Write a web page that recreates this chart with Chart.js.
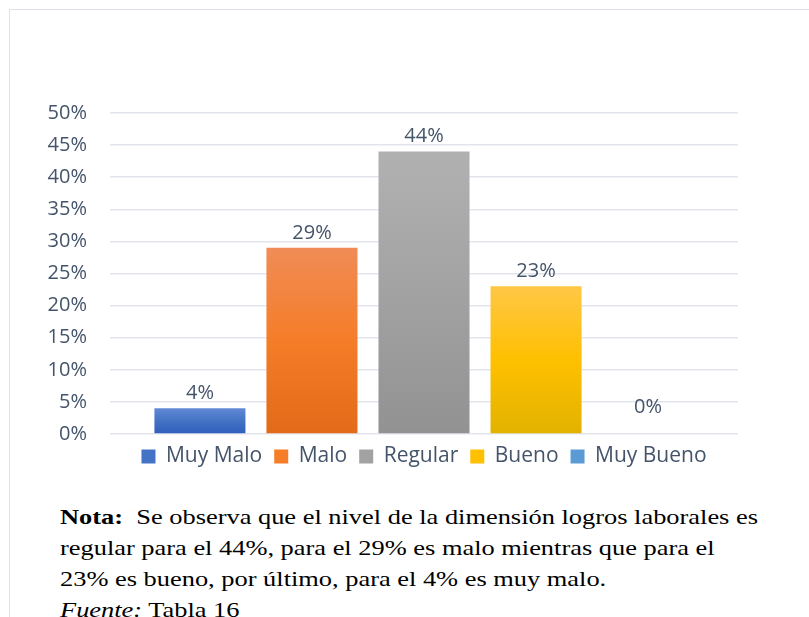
<!DOCTYPE html>
<html>
<head>
<meta charset="utf-8">
<script src="https://cdn.jsdelivr.net/npm/chart.js@4"></script>
<style>
  body { margin: 0; background: #fff; width: 809px; height: 617px; overflow: hidden; position: relative; }
  .frame { position: absolute; left: 9px; top: 9px; right: -2px; bottom: -2px; border-left: 1.5px solid #dde2e9; border-top: 1.5px solid #dde2e9; }
  .chart-box { position: absolute; left: 0; top: 0; width: 809px; height: 480px; }
  .nota { position: absolute; left: 60px; top: 501px; font-family: "Liberation Serif", "Times New Roman", serif; font-size: 22px; line-height: 31px; color: #000; transform: scaleX(1.2); transform-origin: 0 0; }
  .nota div { white-space: nowrap; }
</style>
</head>
<body>
<div class="frame"></div>
<div class="chart-box"><canvas id="logros_chart"></canvas></div>
<div class="nota">
  <div><b>Nota:</b>&nbsp; Se observa que el nivel de la dimensión logros laborales es</div>
  <div>regular para el 44%, para el 29% es malo mientras que para el</div>
  <div>23% es bueno, por último, para el 4% es muy malo.</div>
  <div><i>Fuente:</i> Tabla 16</div>
</div>
<script>
  var series_names = ['Muy Malo', 'Malo', 'Regular', 'Bueno', 'Muy Bueno'];
  var series_values = [4, 29, 44, 23, 0];
  var y_ticks = [0, 5, 10, 15, 20, 25, 30, 35, 40, 45, 50];

  // top / middle / bottom colour of each bar gradient
  var bar_colors = [
    ['#6189d6', '#4472c4', '#2f5ebe'],
    ['#f08c56', '#f57d28', '#e36a18'],
    ['#b1b1b1', '#a2a2a2', '#929292'],
    ['#ffc746', '#ffc000', '#e2b200'],
    ['#6ba6dd', '#5b9bd5', '#3f86c8']
  ];

  var text_color = '#44546a';
  var label_font = { family: "'Open Sans', sans-serif", size: 20 };

  var bar_gradient = function(index) {
    return function(ctx) {
      var chart = ctx.chart;
      var y = chart.scales && chart.scales.y;
      if (!chart.chartArea || !y) {
        return bar_colors[index][1];
      }
      var top = y.getPixelForValue(series_values[index]);
      var bottom = y.getPixelForValue(0);
      if (bottom - top < 1) {
        return bar_colors[index][1];
      }
      var g = chart.ctx.createLinearGradient(0, top, 0, bottom);
      g.addColorStop(0, bar_colors[index][0]);
      g.addColorStop(0.5, bar_colors[index][1]);
      g.addColorStop(1, bar_colors[index][2]);
      return g;
    };
  };

  // value labels above each bar
  var valueLabels = {
    id: 'valueLabels',
    afterDatasetsDraw: function(chart) {
      var ctx = chart.ctx;
      var base = chart.scales.y.getPixelForValue(0);
      ctx.save();
      ctx.font = label_font.size + 'px ' + label_font.family;
      ctx.fillStyle = text_color;
      ctx.textAlign = 'center';
      ctx.textBaseline = 'bottom';
      chart.data.datasets.forEach(function(ds, i) {
        var bar = chart.getDatasetMeta(i).data[0];
        var ty = Math.min(bar.y - 5, base - 17);
        ctx.fillText(ds.data[0] + '%', bar.x, ty);
      });
      ctx.restore();
    }
  };

  var datasets = series_names.map(function(name, i) {
    return {
      label: name,
      data: [series_values[i]],
      backgroundColor: bar_gradient(i),
      borderWidth: 0,
      categoryPercentage: 0.892,
      barPercentage: 0.8125
    };
  });

  var canvas = document.getElementById('logros_chart').getContext('2d');
  new Chart(canvas, {
    type: 'bar',
    data: { labels: [''], datasets: datasets },
    plugins: [valueLabels],
    options: {
      responsive: true,
      maintainAspectRatio: false,
      animation: false,
      layout: { padding: { left: 0, right: 71, top: 113, bottom: 3 } },
      plugins: {
        tooltip: { enabled: false },
        legend: {
          position: 'bottom',
          fullSize: false,
          labels: {
            boxWidth: 14,
            boxHeight: 14,
            padding: 12,
            color: text_color,
            font: { family: label_font.family, size: 21 },
            generateLabels: function(chart) {
              return series_names.map(function(name, i) {
                return {
                  text: name,
                  fillStyle: bar_colors[i][1],
                  strokeStyle: bar_colors[i][1],
                  lineWidth: 0,
                  fontColor: text_color,
                  datasetIndex: i
                };
              });
            }
          }
        }
      },
      scales: {
        x: {
          display: false,
          grid: { display: false }
        },
        y: {
          min: 0,
          max: 50,
          afterFit: function(scale) { scale.width = 110; },
          afterBuildTicks: function(scale) {
            scale.ticks = y_ticks.map(function(v) { return { value: v }; });
          },
          border: { display: false },
          grid: { color: '#e1e5eb', lineWidth: 1.5, drawTicks: false },
          ticks: {
            padding: 23,
            color: text_color,
            font: label_font,
            callback: function(v) { return v + '%'; }
          }
        }
      }
    }
  });
</script>
</body>
</html>
